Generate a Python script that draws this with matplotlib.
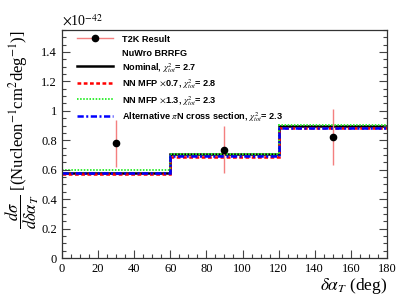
import matplotlib
matplotlib.use("Agg")
import matplotlib.pyplot as plt
from matplotlib.lines import Line2D
from matplotlib.ticker import MultipleLocator, FormatStrFormatter

plt.rcParams['font.family'] = ['Liberation Serif', 'DejaVu Serif']
plt.rcParams['mathtext.fontset'] = 'stix'

bin_edges = [0, 60, 120, 180]
nominal = [0.579, 0.705, 0.899]
mfp07 = [0.568, 0.688, 0.881]
mfp13 = [0.597, 0.710, 0.902]
alt_piN = [0.576, 0.690, 0.882]

data_x = [30, 90, 150]
data_y = [0.780, 0.736, 0.822]
data_err = [0.160, 0.160, 0.190]

labels = ["T2K Result", "NuWro BRRFG",
          r"Nominal, $\chi^{2}_{tot}$= 2.7",
          r"NN MFP $\times$0.7, $\chi^{2}_{tot}$= 2.8",
          r"NN MFP $\times$1.3, $\chi^{2}_{tot}$= 2.3",
          r"Alternative $\pi$N cross section, $\chi^{2}_{tot}$= 2.3"]

fig = plt.figure(figsize=(4.07, 3.05), dpi=100)
ax = fig.add_axes([0.152, 0.154, 0.799, 0.748])

ax.stairs(nominal, bin_edges, color='black', lw=1.8, baseline=None)
ax.stairs(mfp07, bin_edges, color='red', lw=1.8, ls=(0, (1.5, 1)), baseline=None)
ax.stairs(mfp13, bin_edges, color='#33ee33', lw=1.4, ls=(0, (0.8, 0.8)), baseline=None)
ax.stairs(alt_piN, bin_edges, color='blue', lw=1.8, ls=(0, (2.5, 1, 0.8, 1)), baseline=None)

ax.errorbar(data_x, data_y, yerr=data_err, fmt='o', color='black', ms=4.5,
            ecolor='#f47f7f', elinewidth=1.0, capsize=0, zorder=5)

ax.set_xlim(0, 180)
ax.set_ylim(0, 1.55)
ax.xaxis.set_major_locator(MultipleLocator(20))
ax.xaxis.set_minor_locator(MultipleLocator(5))
ax.yaxis.set_major_locator(MultipleLocator(0.2))
ax.yaxis.set_minor_locator(MultipleLocator(0.05))
ax.yaxis.set_major_formatter(FormatStrFormatter('%g'))
ax.tick_params(axis='both', which='both', direction='in', right=True, top=False,
               labelsize=9, width=0.8, color='#444444')
ax.tick_params(which='major', length=6)
ax.tick_params(which='minor', length=3)
for s in ax.spines.values():
    s.set_linewidth(0.9)
    s.set_color('#333333')

ax.set_xlabel(r"$\delta\alpha_{T}$ (deg)", fontsize=12.5, loc='right', labelpad=1)
ax.set_ylabel(r"$\dfrac{d\sigma}{d\delta\alpha_{T}}$ [(Nucleon$^{-1}$cm$^{2}$deg$^{-1}$)]",
              fontsize=12, loc='top', labelpad=0)
ax.text(0.0, 1.005, r"$\times$10$^{-42}$", transform=ax.transAxes, fontsize=10,
        ha='left', va='bottom')

h_data = Line2D([], [], color='#f47f7f', lw=1, marker='o', mfc='black', mec='black', ms=4.5)
h_head = Line2D([], [], color='none')
h_nom = Line2D([], [], color='black', lw=1.8)
h_07 = Line2D([], [], color='red', lw=1.8, ls=(0, (1.5, 1)))
h_13 = Line2D([], [], color='#33ee33', lw=1.4, ls=(0, (0.8, 0.8)))
h_alt = Line2D([], [], color='blue', lw=1.8, ls=(0, (2.5, 1, 0.8, 1)))
leg = ax.legend([h_data, h_head, h_nom, h_07, h_13, h_alt], labels,
                loc='upper left', bbox_to_anchor=(0.02, 1.02), frameon=False,
                prop={'family': 'Liberation Sans', 'weight': 'bold', 'size': 6.6},
                handlelength=4.0, handletextpad=1.0, handleheight=1.45,
                labelspacing=0.3)

fig.savefig("out.png", dpi=100)
